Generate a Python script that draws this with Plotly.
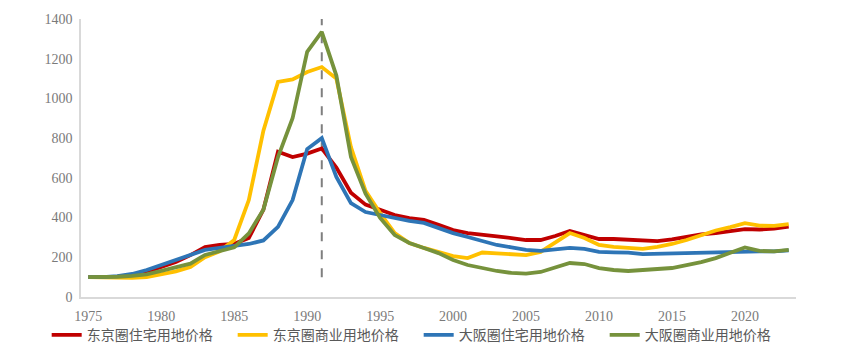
import plotly.graph_objects as go

years = list(range(1975, 2024))

tokyo_res = [100, 100, 103, 109, 126, 151, 176, 211, 252, 262, 268, 297, 440, 732, 705, 722, 748, 652, 525, 465,
             438, 413, 397, 388, 363, 337, 322, 312, 305, 297, 287, 287, 307, 332, 312, 292, 292, 287, 282, 281,
             290, 302, 315, 322, 332, 342, 340, 344, 354]
tokyo_com = [100, 98, 95, 96, 100, 114, 129, 151, 200, 230, 287, 488, 838, 1083, 1096, 1133, 1158, 1100, 755, 535,
             423, 322, 272, 247, 227, 206, 196, 224, 220, 215, 211, 227, 272, 322, 297, 262, 252, 247, 242, 252,
             267, 287, 312, 335, 352, 372, 359, 358, 367]
osaka_res = [100, 100, 105, 116, 136, 161, 186, 211, 237, 247, 257, 267, 285, 353, 488, 745, 800, 605, 473, 428,
             413, 397, 383, 373, 347, 322, 302, 280, 262, 250, 237, 232, 240, 247, 242, 227, 225, 223, 216, 218,
             220, 222, 225, 227, 229, 232, 230, 230, 235]
osaka_com = [100, 100, 102, 106, 114, 132, 150, 168, 212, 232, 250, 320, 440, 705, 900, 1235, 1335, 1115, 705, 520,
             398, 312, 272, 247, 221, 186, 161, 146, 131, 121, 118, 126, 151, 171, 166, 146, 136, 131, 136, 141,
             146, 161, 176, 196, 221, 250, 232, 230, 237]

series_names = ["东京圈住宅用地价格", "东京圈商业用地价格", "大阪圈住宅用地价格", "大阪圈商业用地价格"]
series_values = [tokyo_res, tokyo_com, osaka_res, osaka_com]
series_colors = ["#C00000", "#FFC000", "#2E75B6", "#76923C"]

x_ticks = [1975, 1980, 1985, 1990, 1995, 2000, 2005, 2010, 2015, 2020]
y_ticks = [0, 200, 400, 600, 800, 1000, 1200, 1400]

marker_year = 1991
marker_span = [100, 1400]

fig = go.Figure()
for name, vals, col in zip(series_names, series_values, series_colors):
    fig.add_trace(go.Scatter(x=years, y=vals, mode="lines", name=name,
                             line=dict(color=col, width=3.8)))

fig.add_shape(type="line", xref="x", yref="y",
              x0=marker_year, x1=marker_year, y0=marker_span[0], y1=marker_span[1],
              line=dict(color="#7F7F7F", width=2, dash="dash"), layer="below")

tick_font = dict(family="Liberation Serif, DejaVu Serif, serif", size=14, color="#7A7A7A")

fig.update_layout(
    width=848, height=351,
    margin=dict(l=73, r=60, t=11, b=62, autoexpand=False),
    paper_bgcolor="white", plot_bgcolor="white",
    showlegend=True,
    legend=dict(orientation="h", x=-0.048, xanchor="left", y=-0.08, yanchor="top",
                entrywidth=141, entrywidthmode="pixels",
                font=dict(family="Noto Sans CJK SC", size=14, color="#595959"),
                bgcolor="rgba(0,0,0,0)", itemwidth=30, tracegroupgap=0),
    xaxis=dict(range=[1974.5, 2023.5], tickvals=x_ticks, ticktext=[str(v) for v in x_ticks],
               showgrid=False, zeroline=False, showline=True, linecolor="#D9D9D9", linewidth=1.5,
               ticks="", tickfont=tick_font, ticklabelstandoff=5, automargin=False),
    yaxis=dict(range=[0, 1400], tickvals=y_ticks, ticktext=[str(v) for v in y_ticks],
               showgrid=False, zeroline=False, showline=True, linecolor="#D9D9D9", linewidth=1.5,
               ticks="", tickfont=tick_font, ticklabelstandoff=4, automargin=False),
)

fig.write_html("out.html")
